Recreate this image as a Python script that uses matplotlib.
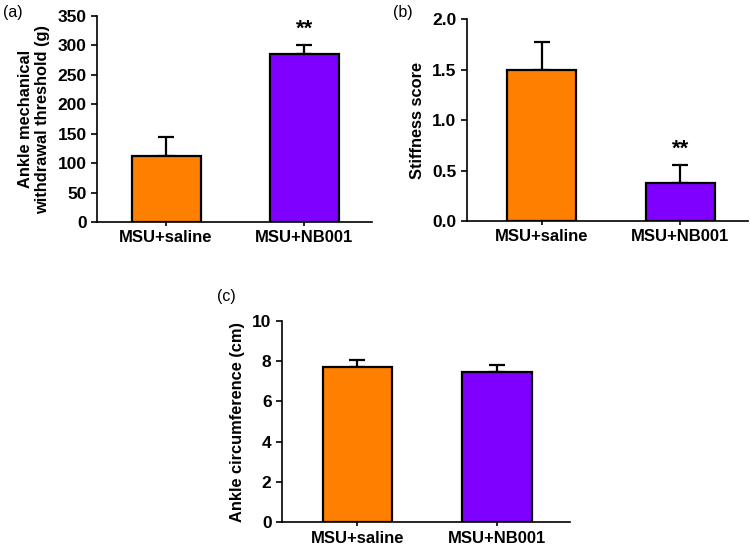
import matplotlib
matplotlib.use("Agg")
import matplotlib.pyplot as plt
import numpy as np

plt.rcParams['font.family'] = ['Liberation Sans', 'DejaVu Sans']

groups = ["MSU+saline", "MSU+NB001"]
colors = ["#FF8000", "#8000FF"]

threshold_mean = [112, 285]
threshold_err = [32, 16]

stiffness_mean = [1.5, 0.375]
stiffness_err = [0.27, 0.18]

circ_mean = [7.72, 7.46]
circ_err = [0.33, 0.36]

fig = plt.figure(figsize=(7.5, 5.51), dpi=100)

def panel(rect, means, errs, ylim, yticks, yticklabels, ylabel, stars, xlim):
    ax = fig.add_axes(rect)
    x = np.arange(len(groups))
    ax.bar(x, means, width=0.5, color=colors, edgecolor='black', linewidth=1.6, zorder=2)
    lower = [0] * len(errs)
    ax.errorbar(x, means, yerr=[lower, errs], fmt='none', ecolor='black',
                elinewidth=1.6, capsize=5.5, capthick=1.6, zorder=1)
    ax.set_xlim(*xlim)
    ax.set_ylim(*ylim)
    ax.set_yticks(yticks)
    ax.set_yticklabels(yticklabels, fontsize=12.5, fontweight='bold')
    ax.set_xticks(x)
    ax.set_xticklabels(groups, fontsize=12, fontweight='bold')
    ax.set_ylabel(ylabel, fontsize=11.8, fontweight='bold', labelpad=5)
    for s in ['top', 'right']:
        ax.spines[s].set_visible(False)
    for s in ['left', 'bottom']:
        ax.spines[s].set_linewidth(1.2)
    ax.tick_params(axis='y', direction='out', length=4.5, width=1.2, pad=3)
    ax.tick_params(axis='x', direction='out', length=3, width=1.2, pad=3)
    for i, st in enumerate(stars):
        if st:
            ax.annotate(st, xy=(x[i], means[i] + errs[i]), xytext=(0, 4),
                        textcoords='offset points', ha='center', va='bottom',
                        fontsize=16, fontweight='bold')
    return ax

axa = panel([0.1293, 0.597, 0.3667, 0.3739], threshold_mean, threshold_err,
            (0, 350), [0, 50, 100, 150, 200, 250, 300, 350],
            ["0", "50", "100", "150", "200", "250", "300", "350"],
            "Ankle mechanical\nwithdrawal threshold (g)", ["", "**"], (-0.5, 1.49))
axb = panel([0.6227, 0.5989, 0.3747, 0.3666], stiffness_mean, stiffness_err,
            (0, 2.0), [0, 0.5, 1.0, 1.5, 2.0],
            ["0.0", "0.5", "1.0", "1.5", "2.0"],
            "Stiffness score", ["", "**"], (-0.54, 1.49))
axc = panel([0.376, 0.052, 0.384, 0.366], circ_mean, circ_err,
            (0, 10), [0, 2, 4, 6, 8, 10],
            ["0", "2", "4", "6", "8", "10"],
            "Ankle circumference (cm)", ["", ""], (-0.54, 1.52))

fig.text(3 / 750, 1 - 12 / 551, "(a)", fontsize=11.5, va='center', ha='left')
fig.text(393 / 750, 1 - 12 / 551, "(b)", fontsize=11.5, va='center', ha='left')
fig.text(217 / 750, 1 - 297 / 551, "(c)", fontsize=11.5, va='center', ha='left')

fig.savefig("out.png", dpi=100)
